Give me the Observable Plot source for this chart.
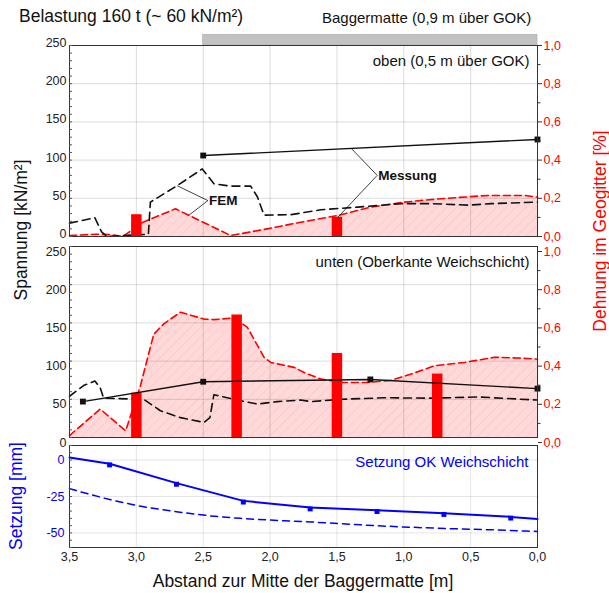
<!DOCTYPE html>
<html><head><meta charset="utf-8">
<script src="https://cdn.jsdelivr.net/npm/d3@7"></script>
<script src="https://cdn.jsdelivr.net/npm/@observablehq/plot@0.6"></script>
<style>
body{margin:0;background:#fff;}
#wrap{position:relative;width:609px;height:593px;font-family:"Liberation Sans",Arial,sans-serif;overflow:hidden;background:#fff;}
#wrap > div, #wrap > svg{position:absolute;left:0;}
.t{white-space:nowrap;color:#111;}
</style></head><body>
<div id="wrap">
  <svg id="ovl" width="609" height="593" style="top:0;">
    <defs>
      <pattern id="hatch" patternUnits="userSpaceOnUse" width="7" height="7" patternTransform="rotate(45)">
        <rect width="7" height="7" fill="#ffd9d9"></rect>
        <line x1="0" y1="0" x2="0" y2="7" stroke="#f4b9b9" stroke-width="0.8"></line>
      </pattern>
    </defs>
  </svg>
  <div class="t" style="left:19px;top:6px;font-size:17.5px;">Belastung 160 t (~ 60 kN/m²)</div>
  <div class="t" style="left:322px;top:9px;font-size:15px;">Baggermatte (0,9 m über GOK)</div>
  <div id="pA" style="top:0px"></div>
  <div id="pB" style="top:240px"></div>
  <div id="pC" style="top:440px"></div>
  <svg id="titles" width="609" height="593" style="top:0;pointer-events:none;font-family:'Liberation Sans',Arial,sans-serif;">
    <text transform="translate(21,230) rotate(-90)" text-anchor="middle" dominant-baseline="central" font-size="17.5" fill="#111">Spannung [kN/m²]</text>
    <text transform="translate(600,231) rotate(-90)" text-anchor="middle" dominant-baseline="central" font-size="17.5" fill="#ff0000">Dehnung im Geogitter [%]</text>
    <text transform="translate(16,496) rotate(-90)" text-anchor="middle" dominant-baseline="central" font-size="17.5" fill="#0000ff">Setzung [mm]</text>
    <text x="303" y="581" text-anchor="middle" dominant-baseline="central" font-size="17.5" fill="#111">Abstand zur Mitte der Baggermatte [m]</text>
  </svg>
</div>
<script>
// ---------- ticks ----------
const xTicks = [3.5, 3.0, 2.5, 2.0, 1.5, 1.0, 0.5, 0.0];
const stressTicks = [0, 50, 100, 150, 200, 250];
const strainTicks = [0, 0.2, 0.4, 0.6, 0.8, 1.0];
const strainMinorTicks = [0.1, 0.3, 0.5, 0.7, 0.9];
const settleTicks = [0, -25, -50];
const mattExtent = [2.5, 0.0];       // Baggermatte, x-range [m]

// ---------- oben (0,5 m über GOK) ----------
const obenMessX = [2.5, 0.0];
const obenMessY = [106, 127];
const obenFemX = [3.5, 3.31, 3.26, 3.22, 2.91, 2.895, 2.695, 2.507, 2.42, 2.3, 2.145, 2.095, 2.045, 1.846, 1.62, 1.345, 1.02, 0.794, 0.52, 0.344, 0.0];
const obenFemY = [17.5, 24.5, 6, 0, 3, 45, 66.5, 88.5, 69, 66, 66, 52, 28, 28.5, 35, 38.5, 43, 43, 41, 43, 45];
const obenStrainX = [3.5, 3.3, 3.2, 3.1, 2.95, 2.707, 2.295, 2.02, 1.77, 1.494, 1.244, 0.996, 0.72, 0.37, 0.096, 0.0];
const obenStrainY = [0.005, 0.012, 0.01, 0, 0.075, 0.145, 0.005, 0.04, 0.075, 0.11, 0.154, 0.18, 0.198, 0.215, 0.215, 0.206];
const obenBarX = [3.0, 1.5];
const obenBarY = [0.114, 0.101];

// ---------- unten (Oberkante Weichschicht) ----------
const untenMessX = [3.4, 2.5, 1.25, 0.0];
const untenMessY = [47, 73, 76, 64];
const untenFemX = [3.5, 3.395, 3.31, 3.27, 3.245, 2.945, 2.82, 2.67, 2.495, 2.45, 2.42, 2.27, 2.095, 1.945, 1.77, 1.695, 1.47, 1.147, 0.794, 0.44, 0.0];
const untenFemY = [54, 68, 74, 65, 51.5, 50, 35, 26, 19.7, 26, 56, 50, 43.7, 47, 49, 47, 50, 52, 51.5, 53, 49];
const untenStrainX = [3.5, 3.27, 3.08, 2.97, 2.87, 2.795, 2.67, 2.495, 2.42, 2.27, 2.17, 2.045, 1.995, 1.82, 1.745, 1.62, 1.45, 1.27, 1.094, 0.944, 0.77, 0.545, 0.32, 0.144, 0.0];
const untenStrainY = [0.01, 0.149, 0.035, 0.27, 0.54, 0.595, 0.656, 0.62, 0.617, 0.626, 0.577, 0.42, 0.393, 0.367, 0.34, 0.306, 0.288, 0.288, 0.30, 0.332, 0.376, 0.393, 0.42, 0.416, 0.41];
const untenBarX = [3.0, 2.25, 1.5, 0.75];
const untenBarY = [0.2325, 0.642, 0.44, 0.332];

// ---------- Setzung OK Weichschicht ----------
const setzMessX = [3.5, 3.2, 2.7, 2.2, 1.7, 1.2, 0.7, 0.2, 0.0];
const setzMessY = [1.8, -2.5, -15.8, -28, -32.5, -34.5, -36.5, -39, -40.5];
const setzPointX = [3.2, 2.7, 2.2, 1.7, 1.2, 0.7, 0.2];
const setzPointY = [-3.3, -16.6, -28.8, -33.5, -35.3, -37.3, -39.8];
const setzFemX = [3.5, 3.2, 2.945, 2.7, 2.445, 2.2, 1.69, 1.1, 0.67, 0.23, 0.0];
const setzFemY = [-19.6, -27, -32, -35.4, -38.3, -40.1, -42.5, -45.5, -47, -48.2, -49];

// secondary axis: 1,0 % strain corresponds to 250 kN/m² on the stress axis
const K = 250;

const zip = (xs, vs) => xs.map((x, i) => ({x, v: vs[i]}));
const fmt = d => d3.format(".1f")(d).replace(".", ",");
const GRID = "#000";
const style = {fontSize: "12.5px", fontFamily: "'Liberation Sans', Arial, sans-serif", color: "#222", background: "transparent", overflow: "visible"};

function stressMarks(strain, fem, bars, mess, label) {
  return [
    Plot.areaY(strain, {x: "x", y: d => d.v * K, fill: "url(#hatch)"}),
    Plot.ruleX(xTicks, {stroke: GRID, strokeOpacity: 0.14}),
    Plot.ruleY(stressTicks.slice(1, -1), {stroke: GRID, strokeOpacity: 0.14}),
    Plot.line(strain, {x: "x", y: d => d.v * K, stroke: "#ff0000", strokeWidth: 1.6, strokeDasharray: "7,4"}),
    Plot.line(fem, {x: "x", y: "v", stroke: "#111", strokeWidth: 1.6, strokeDasharray: "8,5"}),
    Plot.ruleX(bars, {x: "x", y1: 0, y2: d => d.v * K, stroke: "#ff0000", strokeWidth: 10.5}),
    Plot.line(mess, {x: "x", y: "v", stroke: "#111", strokeWidth: 1.4}),
    Plot.dot(mess, {x: "x", y: "v", symbol: "square", r: 3.3, fill: "#111"}),
    Plot.text([label], {text: d => d, frameAnchor: "top-right", dx: -8, dy: 10, lineAnchor: "top", textAnchor: "end", fontSize: 15, fill: "#111"}),
  ];
}
function stressAxes(dyLeft, dyRight) {
  return [
    Plot.frame({stroke: "#333"}),
    Plot.axisY({ticks: stressTicks, tickSize: 0, tickPadding: 3, dy: dyLeft, tickFormat: d => String(d), label: null, fill: "#222"}),
    Plot.axisY({ticks: d3.range(0, 251, 10), tickSize: 3, dx: 3, tickFormat: () => "", label: null, stroke: "#555"}),
    Plot.axisY({anchor: "right", ticks: strainTicks.map(s => s * K), tickSize: 4, tickPadding: 2, dy: dyRight, tickFormat: d => fmt(d / K), label: null, fill: "#ff0000", stroke: "#333"}),
    Plot.axisY({anchor: "right", ticks: strainMinorTicks.map(s => s * K), tickSize: 2.5, dy: dyRight, tickFormat: () => "", label: null, stroke: "#333"}),
  ];
}

// ---- top panel ----
const femAnchor = [{x: 2.465, y: 47}];
const femTargets = [{x: 2.695, y: 66.5}, {x: 2.61, y: 27.5}];
const messAnchor = [{x: 1.199, y: 80}];
const messTargets = [{x: 1.394, y: 115.5}, {x: 1.494, y: 25}];

const plotA = Plot.plot({
  width: 609, height: 240, marginLeft: 69, marginRight: 72, marginTop: 45, marginBottom: 4,
  x: {domain: [3.5, 0], axis: null},
  y: {domain: [0, 250], axis: null},
  style,
  marks: [
    Plot.rect([mattExtent], {x1: d => d[0], x2: d => d[1], y1: 250, y2: 264, fill: "#c2c2c2", stroke: "#aaa", strokeWidth: 0.6}),
    ...stressMarks(zip(obenStrainX, obenStrainY), zip(obenFemX, obenFemY), zip(obenBarX, obenBarY), zip(obenMessX, obenMessY), "oben (0,5 m über GOK)"),
    Plot.link(femTargets, {x1: () => femAnchor[0].x, y1: () => femAnchor[0].y, x2: "x", y2: "y", stroke: "#111", strokeWidth: 0.8}),
    Plot.text(femAnchor, {x: "x", y: "y", text: () => "FEM", textAnchor: "start", dx: 1, fontWeight: "bold", fontSize: 13.5, fill: "#111"}),
    Plot.link(messTargets, {x1: () => messAnchor[0].x, y1: () => messAnchor[0].y, x2: "x", y2: "y", stroke: "#111", strokeWidth: 0.8}),
    Plot.text(messAnchor, {x: "x", y: "y", text: () => "Messung", textAnchor: "start", dx: 1, fontWeight: "bold", fontSize: 13.5, fill: "#111"}),
    ...stressAxes(-2.5, 0)
  ]
});
document.getElementById("pA").append(plotA);

// ---- middle panel ----
const plotB = Plot.plot({
  width: 609, height: 205, marginLeft: 69, marginRight: 72, marginTop: 6, marginBottom: 8,
  x: {domain: [3.5, 0], axis: null},
  y: {domain: [0, 250], axis: null},
  style,
  marks: [
    ...stressMarks(zip(untenStrainX, untenStrainY), zip(untenFemX, untenFemY), zip(untenBarX, untenBarY), zip(untenMessX, untenMessY), "unten (Oberkante Weichschicht)"),
    ...stressAxes(5, 5)
  ]
});
document.getElementById("pB").append(plotB);

// ---- bottom panel ----
const BLUE = "#0000ff";
const plotC = Plot.plot({
  width: 609, height: 153, marginLeft: 69, marginRight: 72, marginTop: 5, marginBottom: 46,
  x: {domain: [3.5, 0], axis: null},
  y: {domain: [-60, 10], axis: null},
  style,
  marks: [
    Plot.ruleX(xTicks, {stroke: GRID, strokeOpacity: 0.1}),
    Plot.ruleY(settleTicks, {stroke: GRID, strokeOpacity: 0.1}),
    Plot.line(zip(setzFemX, setzFemY), {x: "x", y: "v", curve: "monotone-x", stroke: BLUE, strokeWidth: 1.5, strokeDasharray: "7,5"}),
    Plot.line(zip(setzMessX, setzMessY), {x: "x", y: "v", stroke: BLUE, strokeWidth: 2}),
    Plot.dot(zip(setzPointX, setzPointY), {x: "x", y: "v", symbol: "square", r: 2.8, fill: BLUE}),
    Plot.text(["Setzung OK Weichschicht"], {text: d => d, frameAnchor: "top-right", dx: -9, dy: 11, lineAnchor: "top", textAnchor: "end", fontSize: 15, fill: BLUE}),
    Plot.frame({stroke: "#333"}),
    Plot.axisY({ticks: settleTicks, tickSize: 0, tickPadding: 5, tickFormat: d => String(d), label: null, fill: BLUE}),
    Plot.axisY({ticks: d3.range(-60, 11, 5), tickSize: 3, dx: 3, tickFormat: () => "", label: null, stroke: "#555"}),
    Plot.axisX({ticks: xTicks, tickSize: 0, tickPadding: 5, tickFormat: fmt, label: null, fill: "#222"})
  ]
});
document.getElementById("pC").append(plotC);
</script>
</body></html>
